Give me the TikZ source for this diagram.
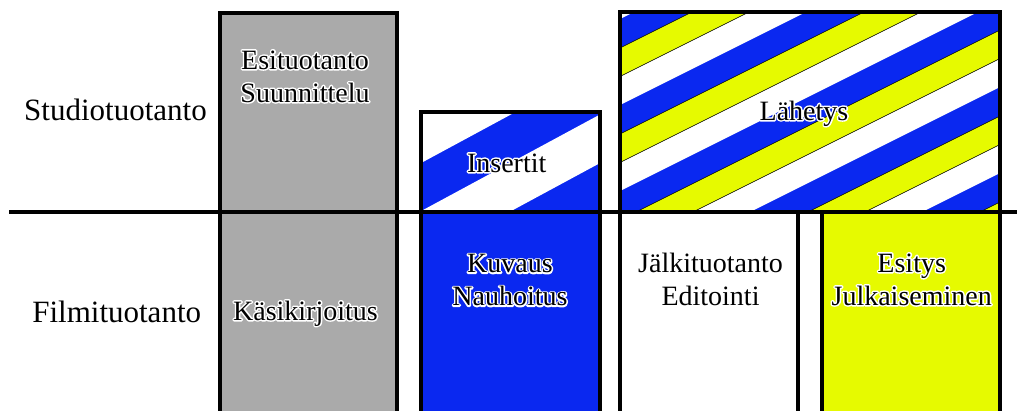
\documentclass[tikz,border=0pt]{standalone}
\usepackage{fontspec}
\setmainfont{Liberation Serif}
\usetikzlibrary{positioning}
\definecolor{tvblue}{RGB}{10,40,240}
\definecolor{tvyellow}{RGB}{230,250,0}
\definecolor{tvgray}{RGB}{170,170,170}
% white outline under the glyphs, then the glyphs themselves
\newcommand{\halo}[1]{\leavevmode\rlap{\special{pdf:literal direct 1 Tr 3 w 1 j 1 1 1 RG}#1\special{pdf:literal direct 0 Tr 0.4 w 0 j 0 0 0 RG}}#1}
\tikzset{
  phase/.style={draw=black, line width=4pt},
  rowlabel/.style={anchor=base, font=\fontsize{31}{36}\selectfont, inner sep=0pt},
  boxlabel/.style={anchor=base, font=\fontsize{28}{33}\selectfont, align=center, inner sep=0pt},
  yellowband/.style={fill=tvyellow, draw=black, line width=0.6pt},
  whiteband/.style={fill=white}
}

\begin{document}
\begin{tikzpicture}[x=1pt, y=-1pt]
  \clip (0,0) rectangle (1017,410);
  % pre-production column
  \filldraw[phase, fill=tvgray] (219.5,430) rectangle (397,13);
  % inserts, striped
  \begin{scope}
    \clip (421,112) rectangle (600,212);
    \fill[tvblue] (421,112) rectangle (600,212);
    \foreach \a/\b in {600/723, 812/902}
      \fill[whiteband] ({\a-1.852*100},100) -- ({\b-1.852*100},100) -- ({\b-1.852*220},220) -- ({\a-1.852*220},220) -- cycle;
  \end{scope}
  \draw[phase] (421,212) rectangle (600,112);
  \filldraw[phase, fill=tvblue] (421,430) rectangle (600,212);
  % broadcast, striped
  \begin{scope}
    \clip (619.5,12) rectangle (1000.3,212);
    \fill[tvblue] (619.5,12) rectangle (1000.3,212);
    \foreach \k in {-1,...,4} {
      \fill[whiteband] ({773+172*\k},0) -- ({830+172*\k},0) -- ({830+172*\k-440},220) -- ({773+172*\k-440},220) -- cycle;
      \filldraw[yellowband] ({716+172*\k},0) -- ({773+172*\k},0) -- ({773+172*\k-440},220) -- ({716+172*\k-440},220) -- cycle;
    }
  \end{scope}
  \draw[phase] (619.5,212) rectangle (1000.3,12);
  \filldraw[phase, fill=white] (619.5,430) rectangle (798,212);
  \filldraw[phase, fill=tvyellow] (822,430) rectangle (1000.3,212);
  % divider
  \draw[line width=4pt] (9,212) -- (1020,212);

  \node[rowlabel] (studio) at (115.5,120) {Studiotuotanto};
  \node[rowlabel] (filmi) at (116.7,322) {Filmituotanto};
  \node[boxlabel] (esi) at (305,102) {\halo{Esituotanto}\\\halo{Suunnittelu}};
  \node[boxlabel] (kasi) at (305.5,320) {\halo{Käsikirjoitus}};
  \node[boxlabel] (insertit) at (506.7,172) {\halo{Insertit}};
  \node[boxlabel] (kuvaus) at (510,305.7) {\halo{Kuvaus}\\\halo{Nauhoitus}};
  \node[boxlabel] (lahetys) at (804,120) {\halo{Lähetys}};
  \node[boxlabel] (jalki) at (710.5,305) {Jälkituotanto\\Editointi};
  \node[boxlabel] (esitys) at (911.7,305) {\halo{Esitys}\\\halo{Julkaiseminen}};
\end{tikzpicture}
\end{document}
